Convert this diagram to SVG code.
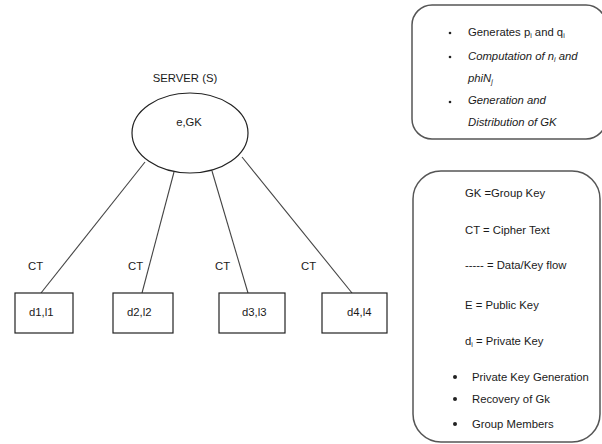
<svg xmlns="http://www.w3.org/2000/svg" width="602" height="444" viewBox="0 0 602 444">
<style>
text{font-family:"Liberation Sans",Arial,sans-serif;font-size:11.3px;fill:#1a1a1a}
.it{font-style:italic}
.sub{font-size:7px}
.node{fill:#fff;stroke:#222;stroke-width:1.2}
.box{fill:#fff;stroke:#555;stroke-width:1.5}
.conn line{stroke:#444;stroke-width:1.1}
</style>
<rect width="602" height="444" fill="#fff"/>
<g class="conn">
<line x1="41" y1="293" x2="145" y2="162"/>
<line x1="142" y1="293" x2="174" y2="172"/>
<line x1="248" y1="293" x2="212" y2="171"/>
<line x1="352" y1="293" x2="242" y2="157"/>
</g>
<g id="server">
<text x="185" y="82" text-anchor="middle">SERVER (S)</text>
<ellipse class="node" cx="190" cy="133" rx="58" ry="40"/>
<text x="189" y="126" text-anchor="middle">e,GK</text>
</g>
<g id="ct-labels">
<text x="28" y="270">CT</text>
<text x="128" y="270">CT</text>
<text x="215" y="270">CT</text>
<text x="301" y="270">CT</text>
</g>
<g id="d1"><rect class="node" x="15" y="293" width="58" height="40"/><text x="29" y="316">d1,l1</text></g>
<g id="d2"><rect class="node" x="113" y="293" width="60" height="40"/><text x="127" y="316">d2,l2</text></g>
<g id="d3"><rect class="node" x="219" y="293" width="66" height="40"/><text x="242" y="316">d3,l3</text></g>
<g id="d4"><rect class="node" x="322" y="293" width="65" height="40"/><text x="347" y="316">d4,l4</text></g>
<g id="server-tasks">
<rect class="box" x="412" y="5" width="194" height="134" rx="20"/>
<circle cx="450" cy="33" r="1.3" fill="#222"/>
<circle cx="450" cy="57" r="1.3" fill="#222"/>
<circle cx="450" cy="102" r="1.3" fill="#222"/>
<text x="468" y="36">Generates p<tspan class="sub" dy="2">i</tspan><tspan dy="-2"> and q</tspan><tspan class="sub" dy="2">i</tspan></text>
<text x="468" y="60" class="it">Computation of n<tspan class="sub" dy="2">i</tspan><tspan dy="-2"> and</tspan></text>
<text x="468" y="82" class="it">phiN<tspan class="sub" dy="2">j</tspan></text>
<text x="468" y="104" class="it">Generation and</text>
<text x="468" y="126" class="it">Distribution of GK</text>
</g>
<g id="legend">
<rect class="box" x="413" y="171" width="187" height="271" rx="28"/>
<text x="465" y="197">GK =Group Key</text>
<text x="465" y="234">CT = Cipher Text</text>
<text x="465" y="269">----- = Data/Key flow</text>
<text x="465" y="309">E = Public Key</text>
<text x="465" y="345">d<tspan class="sub" dy="2">i</tspan><tspan dy="-2"> = Private Key</tspan></text>
<circle cx="455" cy="377" r="2" fill="#222"/>
<circle cx="455" cy="399" r="2" fill="#222"/>
<circle cx="455" cy="424" r="2" fill="#222"/>
<text x="472" y="381">Private Key Generation</text>
<text x="472" y="403">Recovery of Gk</text>
<text x="472" y="428">Group Members</text>
</g>
</svg>
